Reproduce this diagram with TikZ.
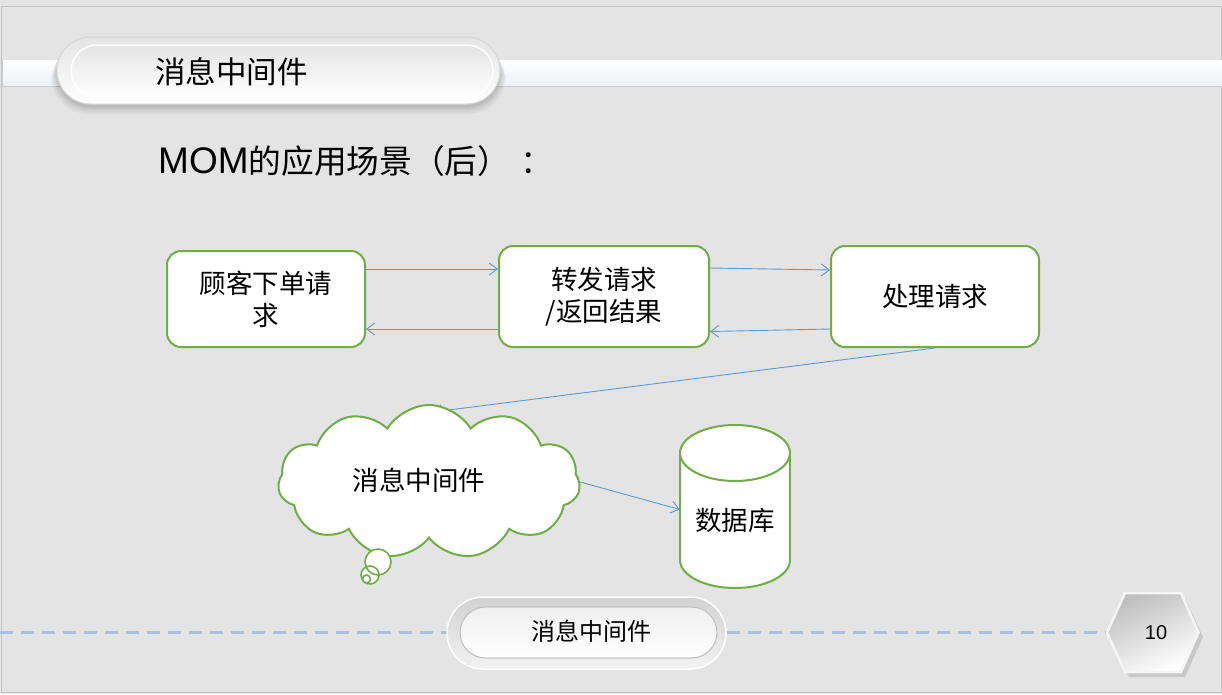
\documentclass[tikz,border=0pt]{standalone}
\usepackage{fontspec}
\setmainfont{Noto Sans CJK SC}
\newfontfamily\latinfont{Liberation Sans}
\usetikzlibrary{shapes.symbols,arrows.meta,calc}
\pgfdeclarelayer{back}
\pgfdeclarelayer{conn}
\pgfsetlayers{back,conn,main}
\definecolor{pagebg}{HTML}{E4E4E4}
\definecolor{boxgreen}{HTML}{70AD47}
\definecolor{arrblue}{HTML}{5B9BD5}
\definecolor{dashblue}{HTML}{A7C0DD}
\definecolor{framegray}{HTML}{C4C4C4}
\definecolor{stripfill}{HTML}{EDF1F6}
\definecolor{stripline}{HTML}{C8CED6}
\definecolor{pilltop}{HTML}{E4E4E4}
\definecolor{pilledge}{HTML}{D6D6D6}
\definecolor{foottop}{HTML}{D2D2D2}
\definecolor{footedge}{HTML}{C4C4C4}
\definecolor{hexgray}{HTML}{BEBEBE}
\tikzset{
  flowbox/.style={draw=boxgreen, line width=2pt, fill=white, rounded corners=14pt,
    align=center, font=\fontsize{26.5}{32}\selectfont, text=black, inner sep=0pt},
  conn/.style={draw=arrblue, line width=0.9pt, -{Straight Barb[length=8pt,width=12pt]}},
  greenline/.style={draw=boxgreen, line width=2pt},
  diagtext/.style={font=\fontsize{26.5}{32}\selectfont, text=black, inner sep=0pt},
  softshadow/.style={fill=black, opacity=0.05},
}
\begin{document}
\begin{tikzpicture}[x=1pt,y=-1pt]
\useasboundingbox (0,0) rectangle (1222,694);
\begin{pgfonlayer}{back}
  \fill[pagebg] (0,0) rectangle (1222,694);
  \draw[framegray, line width=1pt] (1,6.5) rectangle (1221.5,692.5);
  % top strip
  \shade[top color=white, bottom color=stripfill] (2,60) rectangle (1222,86);
  \draw[white, line width=1.5pt] (2,61) -- (1222,61);
  \draw[stripline, line width=1pt] (2,86) -- (1222,86);
  \draw[stripline, line width=0.8pt] (2,60) -- (2,86);
  % footer dashes
  \draw[dashblue, line width=3pt, dash pattern=on 13pt off 8pt] (0,632) -- (447,632);
  \draw[dashblue, line width=3pt, dash pattern=on 13pt off 8pt] (727,632) -- (1108,632);
\end{pgfonlayer}

% title pill
\foreach \e/\d in {10/0.035,8/0.04,6/0.05,4/0.06}{
  \fill[softshadow, opacity=\d, rounded corners=38pt] (57-\e*0.6,37+\e*0.6) rectangle (500+\e*0.6,104+\e);
}
\draw[draw=pilledge, line width=1pt, top color=pilltop, bottom color=white, rounded corners=33.5pt] (57,37) rectangle (500,104);
\draw[draw=white, line width=1.5pt, top color=pilltop, bottom color=white, rounded corners=26pt] (71,45) rectangle (493,97);
\node[font=\fontsize{30.5}{30.5}\selectfont, text=black] (title) at (231.5,72) {消息中间件};

% subtitle
\node[anchor=base west, font=\fontsize{32.7}{33}\selectfont, text=black, inner sep=0pt] (sub) at (158,173)
  {{\latinfont\fontsize{37}{37}\selectfont MOM}的应用场景（后）\kern10pt ：};

% boxes
\node[flowbox, minimum width=198pt, minimum height=96pt] (b1) at (266,299) {顾客下单请\\求};
\node[flowbox, minimum width=210pt, minimum height=101pt] (b2) at (604,296.5) {转发请求\\/返回结果};
\node[flowbox, minimum width=208pt, minimum height=101pt] (b3) at (935,296.5) {处理请求};

% cloud
\node[cloud, cloud puffs=11, cloud puff arc=118, cloud ignores aspect, draw=boxgreen, line width=2pt,
  fill=white, minimum width=302pt, minimum height=154pt, inner sep=0pt] (mq) at (429,482) {};
\node[diagtext] (mqtext) at (419,480) {消息中间件};
\coordinate (mqin) at (433,412);
\fill[white] (378,562) circle (13pt) (370,575) circle (9pt) (366.5,579) circle (4pt);
\draw[greenline, line width=1.6pt] (378,562) circle (13pt) (370,575) circle (9pt) (366.5,579) circle (4pt);

% database
\node[minimum width=110pt, minimum height=163pt, inner sep=0pt] (db) at (735,506.5) {};
\filldraw[greenline, fill=white] (735,560) ellipse (55pt and 28pt);
\fill[white] (680,453) rectangle (790,560);
\draw[greenline] (680,453) -- (680,560) (790,453) -- (790,560);
\filldraw[greenline, fill=white] (735,453) ellipse (55pt and 28pt);
\node[diagtext] (dbtext) at (735,520) {数据库};

% connectors
\begin{pgfonlayer}{conn}
  \draw[conn] ([yshift=30pt]b1.east) -- ([yshift=30pt]b1.east -| b2.west);
  \draw[conn] ([yshift=-32.5pt]b2.west) -- ([yshift=-32.5pt]b2.west -| b1.east);
  \draw[conn] ([yshift=28.5pt]b2.east) -- ([yshift=26.5pt]b3.west);
  \draw[conn] ([yshift=-32.5pt]b3.west) -- ([yshift=-35pt]b2.east);
  \draw[conn] (b3.south) -- (mqin);
  \draw[conn] (mq.east) -- ([yshift=-3pt]db.west);
\end{pgfonlayer}

% footer pill
\draw[draw=white, line width=1.5pt, top color=foottop, bottom color=white!95!black, rounded corners=36pt] (447,597) rectangle (726,669);
\draw[draw=footedge, line width=1.2pt, top color=white!94!black, bottom color=white, rounded corners=25.5pt] (460,607) rectangle (717,658);
\node[font=\fontsize{24}{24}\selectfont, text=black] (foot) at (591,631) {消息中间件};

% page number hexagon
\fill[black, opacity=0.12] (1111,637) -- (1129,598) -- (1185,598) -- (1203,637) -- (1185,677) -- (1129,677) -- cycle;
\draw[draw=white!96!black, line width=2.5pt, top color=hexgray, bottom color=white, shading angle=25]
  (1107,632.5) -- (1125,593) -- (1181,593) -- (1198.5,632.5) -- (1181,672) -- (1125,672) -- cycle;
\node[font=\latinfont\fontsize{20}{20}\selectfont, text=black] (pg) at (1156,632.5) {10};
\end{tikzpicture}
\end{document}
